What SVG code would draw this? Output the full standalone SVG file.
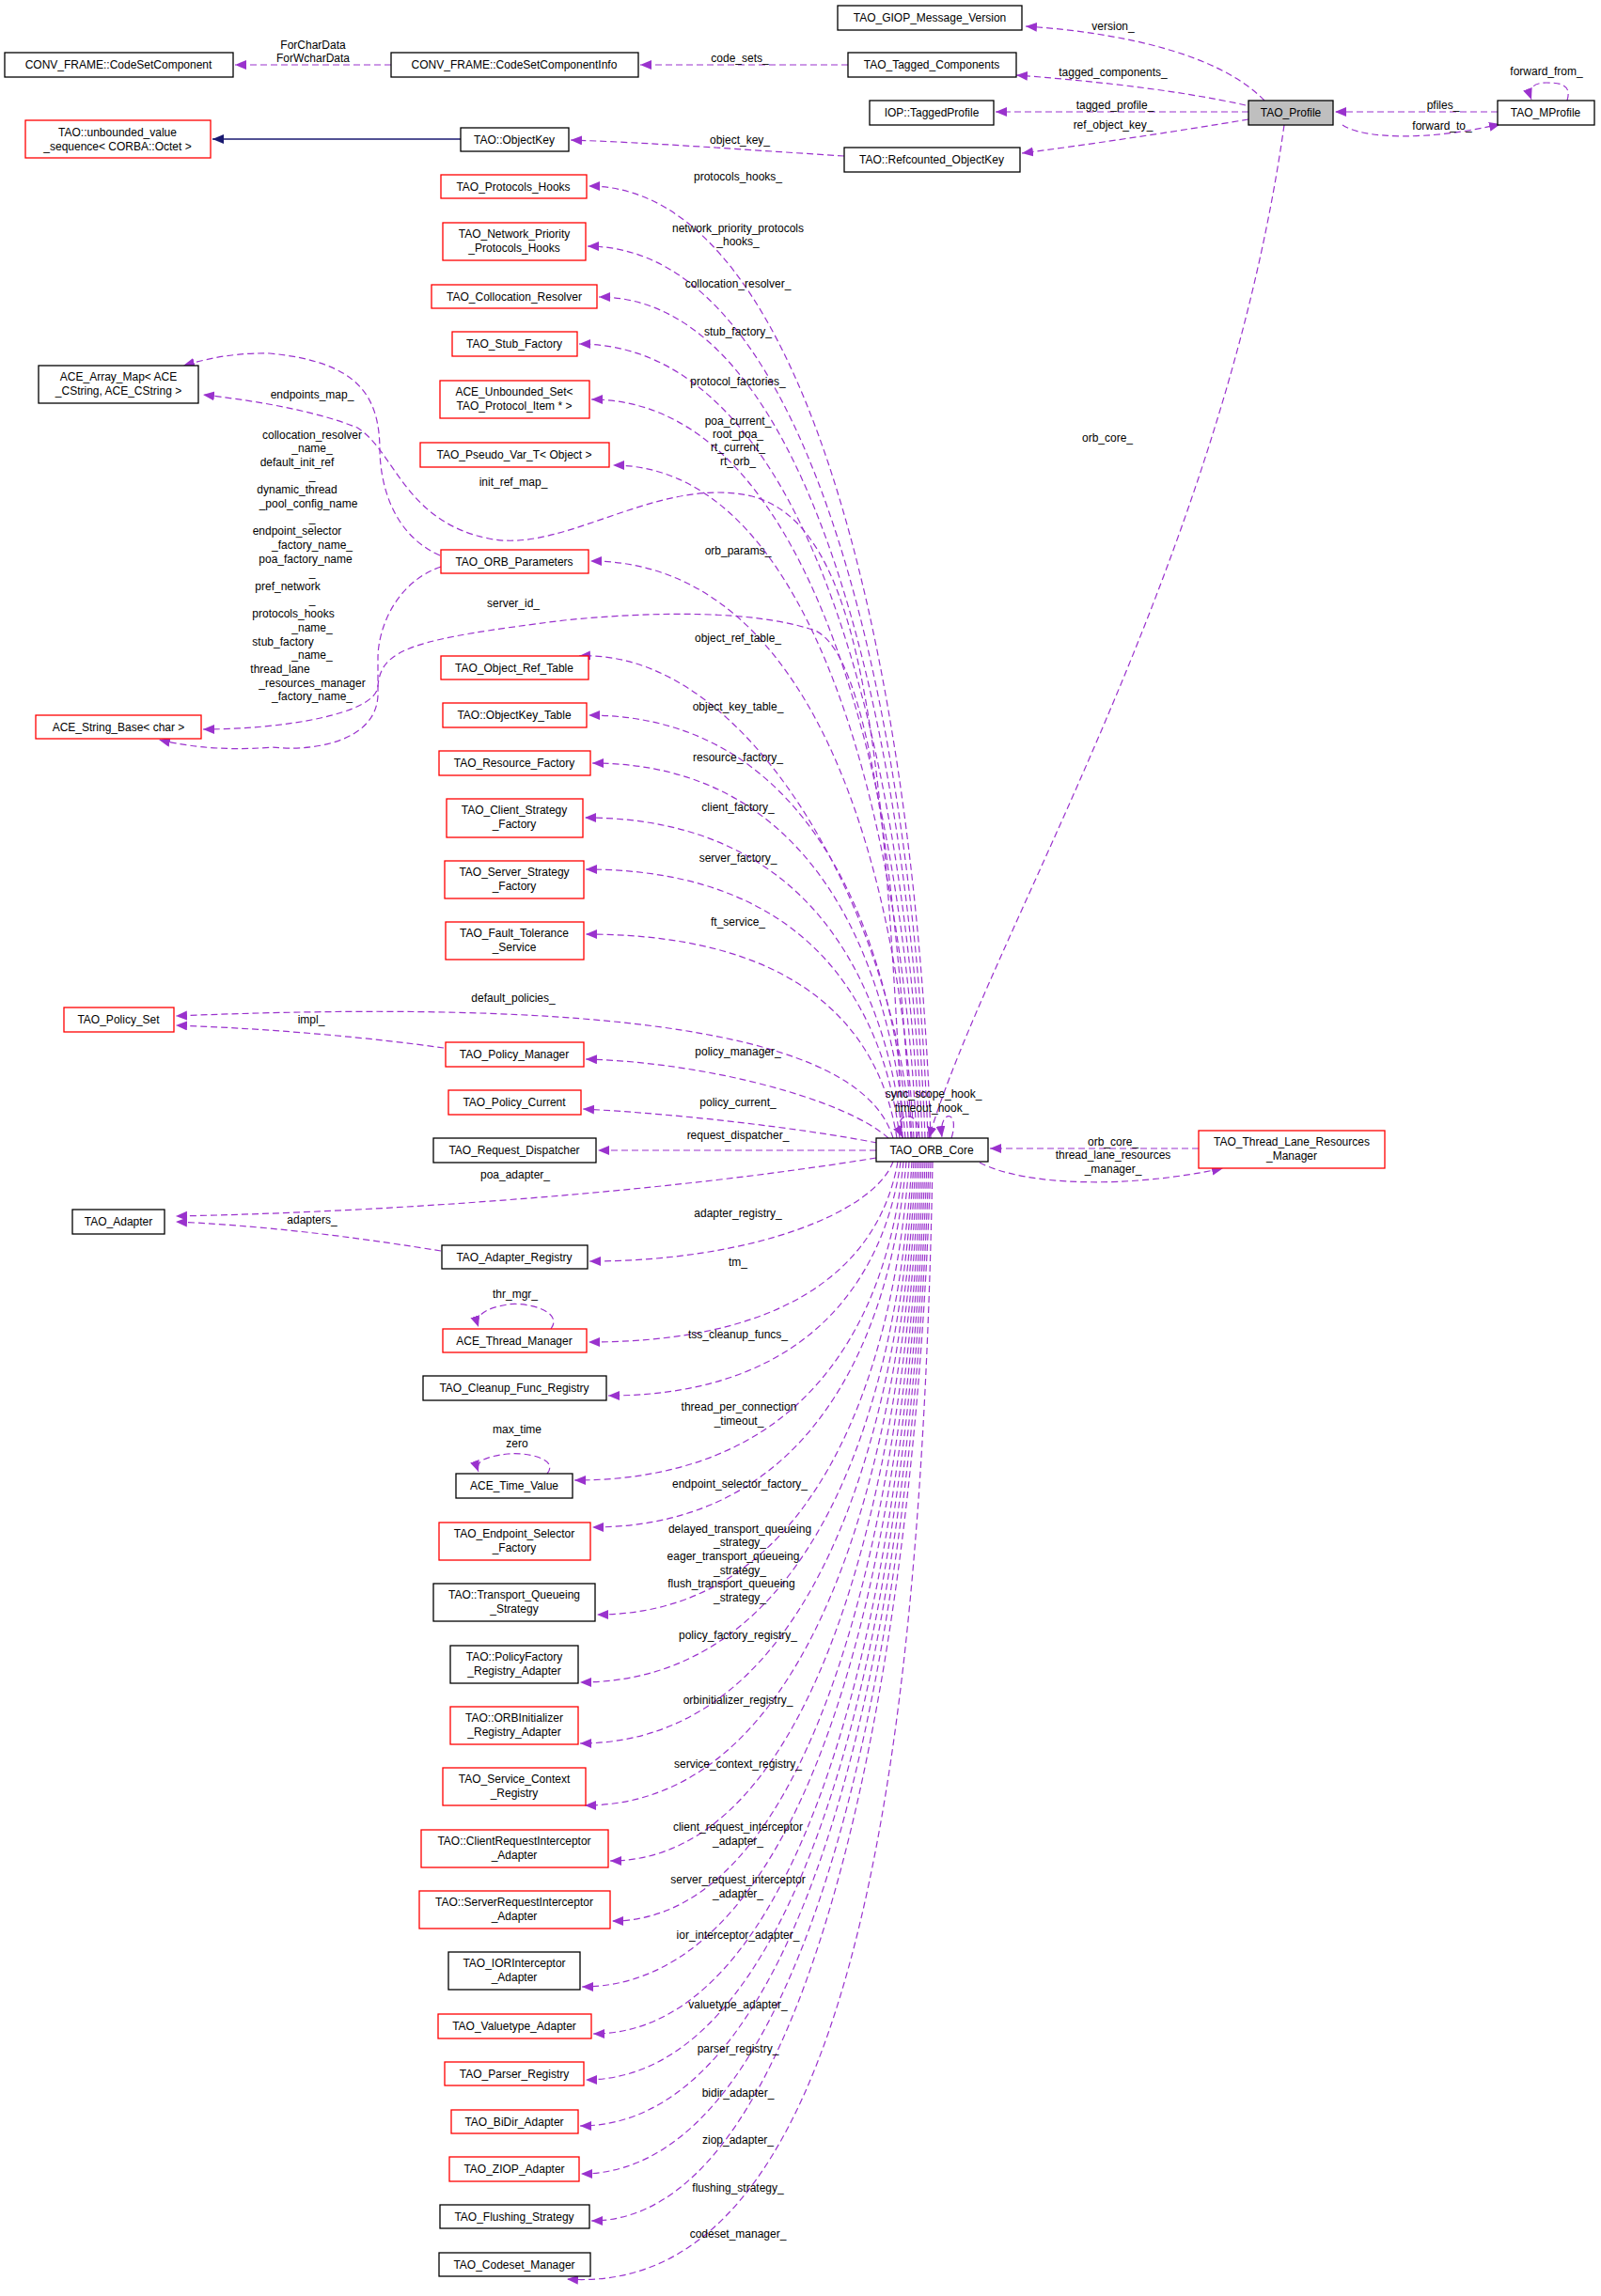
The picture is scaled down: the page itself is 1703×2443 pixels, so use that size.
<svg xmlns="http://www.w3.org/2000/svg" width="1703" height="2443" viewBox="0 0 1703 2443">
<style>
text{font-family:"Liberation Sans",Arial,sans-serif;font-size:12px;fill:#000}
.n text{text-anchor:middle}
.r{fill:#fff;stroke:#ff0000;stroke-width:1.3}
.b{fill:#fff;stroke:#000;stroke-width:1.3}
.g{fill:#bfbfbf;stroke:#000;stroke-width:1.3}
.e{fill:none;stroke:#9a32cd;stroke-width:1.2;stroke-dasharray:7,4;marker-end:url(#a)}
.s{fill:none;stroke:#191970;stroke-width:1.3;marker-end:url(#s)}
.l text{text-anchor:middle}
</style>
<defs>
<marker id="a" markerUnits="userSpaceOnUse" markerWidth="14" markerHeight="12" refX="12" refY="5" orient="auto"><path d="M0,0 L12,5 L0,10 z" fill="#9a32cd"/></marker>
<marker id="s" markerUnits="userSpaceOnUse" markerWidth="14" markerHeight="12" refX="12" refY="5" orient="auto"><path d="M0,0 L12,5 L0,10 z" fill="#191970"/></marker>
</defs>
<rect width="1703" height="2443" fill="#fff"/>
<g id="connectors">
<path class="e" d="M1345,107 C1300,60 1200,35 1091,28"/>
<path class="e" d="M1325,112 C1250,95 1150,85 1081,80"/>
<path class="e" d="M1328,119 L1059,119"/>
<path class="e" d="M1328,127 C1250,140 1150,155 1087,163"/>
<path class="e" d="M902,69 L681,69"/>
<path class="e" d="M416,69 L250,69"/>
<path class="s" d="M490,148 L226,148"/>
<path class="e" d="M898,166 C800,160 700,152 607,149"/>
<path class="e" d="M1593,119 L1420,119"/>
<path class="e" d="M1428,133 C1450,148 1520,150 1596,132"/>
<path class="e" d="M1667,107 C1672,90 1660,88 1645,88 C1630,88 1625,95 1629,106"/>
<path class="e" d="M1366,133 C1300,600 1050,1000 988,1211"/>
<path class="e" d="M975,1211 C985,1180 945,1180 960,1210"/>
<path class="e" d="M1012,1211 C1022,1180 998,1180 1002,1210"/>
<path class="e" d="M1275,1222 L1053,1222"/>
<path class="e" d="M1042,1237 C1090,1262 1200,1265 1301,1243"/>
<path class="e" d="M990,1211 C975,755 870,198 626,198"/>
<path class="e" d="M987,1211 C972,784 870,262 625,262"/>
<path class="e" d="M984,1211 C969,808 870,316 637,316"/>
<path class="e" d="M981,1211 C966,831 870,366 616,366"/>
<path class="e" d="M978,1211 C963,857 870,425 629,425"/>
<path class="e" d="M975,1211 C960,889 870,495 652,495"/>
<path class="e" d="M972,1211 C957,935 870,597 628,597"/>
<path class="e" d="M969,1211 C954,980 800,690 616,698"/>
<path class="e" d="M966,1211 C951,1009 870,761 626,761"/>
<path class="e" d="M963,1211 C948,1031 870,812 630,812"/>
<path class="e" d="M960,1211 C945,1058 870,870 622,870"/>
<path class="e" d="M957,1211 C942,1082 870,925 623,925"/>
<path class="e" d="M954,1211 C939,1113 870,994 623,994"/>
<path class="e" d="M945,1211 C900,1170 750,1130 623,1127"/>
<path class="e" d="M933,1216 C850,1200 720,1185 620,1180"/>
<path class="e" d="M932,1224 L636,1224"/>
<path class="e" d="M950,1211 C920,1110 700,1060 187,1081"/>
<path class="e" d="M472,1115 C400,1105 300,1095 187,1091"/>
<path class="e" d="M932,1232 C700,1270 400,1290 187,1294"/>
<path class="e" d="M469,1331 C400,1320 300,1305 187,1300"/>
<path class="e" d="M950,1236 C930,1290 800,1342 627,1342"/>
<path class="e" d="M955,1236 C940,1322 870,1428 626,1428"/>
<path class="e" d="M958,1236 C943,1348 870,1485 647,1485"/>
<path class="e" d="M961,1236 C946,1389 870,1575 611,1575"/>
<path class="e" d="M964,1236 C949,1411 870,1625 630,1625"/>
<path class="e" d="M967,1236 C952,1453 870,1718 635,1718"/>
<path class="e" d="M970,1236 C955,1485 870,1790 617,1790"/>
<path class="e" d="M972,1236 C957,1515 870,1855 617,1855"/>
<path class="e" d="M974,1236 C959,1544 870,1921 622,1921"/>
<path class="e" d="M976,1236 C961,1571 870,1980 649,1980"/>
<path class="e" d="M978,1236 C963,1600 870,2044 651,2044"/>
<path class="e" d="M980,1236 C965,1631 870,2114 619,2114"/>
<path class="e" d="M982,1236 C967,1654 870,2164 631,2164"/>
<path class="e" d="M984,1236 C969,1676 870,2213 623,2213"/>
<path class="e" d="M986,1236 C971,1698 870,2262 617,2262"/>
<path class="e" d="M988,1236 C973,1720 870,2313 618,2313"/>
<path class="e" d="M990,1236 C975,1743 870,2363 629,2363"/>
<path class="e" d="M992,1236 C980,1900 900,2445 603,2425"/>
<path class="e" d="M586,1414 C600,1395 560,1385 540,1388 C515,1392 505,1400 509,1412"/>
<path class="e" d="M582,1568 C595,1552 560,1545 540,1547 C515,1550 505,1555 509,1566"/>
<path class="e" d="M960,1211 C940,800 920,560 800,528 C700,505 600,590 520,573 C430,555 420,480 380,455 C330,435 260,425 216,420"/>
<path class="e" d="M468,591 C420,570 405,520 404,480 C404,420 380,385 287,376 C240,375 210,385 195,389"/>
<path class="e" d="M469,603 C420,620 402,670 402,700 L402,740 C400,790 330,800 290,795 C230,800 190,792 169,787"/>
<path class="e" d="M970,1211 C950,900 920,680 861,669 C800,650 700,650 600,660 C440,680 405,690 402,730 C400,760 300,776 216,776"/>
</g>
<g class="l">
<text x="1184" y="32">version_</text>
<text x="1184" y="81">tagged_components_</text>
<text x="1186" y="116">tagged_profile_</text>
<text x="1184" y="137">ref_object_key_</text>
<text x="787" y="66">code_sets_</text>
<text x="333" y="52">ForCharData</text>
<text x="333" y="66">ForWcharData</text>
<text x="787" y="153">object_key_</text>
<text x="1535" y="116">pfiles_</text>
<text x="1534" y="138">forward_to_</text>
<text x="1645" y="80">forward_from_</text>
<text x="1178" y="470">orb_core_</text>
<text x="785" y="192">protocols_hooks_</text>
<text x="785" y="247">network_priority_protocols</text>
<text x="785" y="261">_hooks_</text>
<text x="785" y="306">collocation_resolver_</text>
<text x="785" y="357">stub_factory_</text>
<text x="785" y="410">protocol_factories_</text>
<text x="785" y="452">poa_current_</text>
<text x="785" y="466">root_poa_</text>
<text x="785" y="480">rt_current_</text>
<text x="785" y="495">rt_orb_</text>
<text x="546" y="517">init_ref_map_</text>
<text x="332" y="424">endpoints_map_</text>
<text x="785" y="590">orb_params_</text>
<text x="546" y="646">server_id_</text>
<text x="785" y="683">object_ref_table_</text>
<text x="785" y="756">object_key_table_</text>
<text x="785" y="810">resource_factory_</text>
<text x="785" y="863">client_factory_</text>
<text x="785" y="917">server_factory_</text>
<text x="785" y="985">ft_service_</text>
<text x="546" y="1066">default_policies_</text>
<text x="331" y="1089">impl_</text>
<text x="785" y="1123">policy_manager_</text>
<text x="785" y="1177">policy_current_</text>
<text x="785" y="1212">request_dispatcher_</text>
<text x="548" y="1254">poa_adapter_</text>
<text x="332" y="1302">adapters_</text>
<text x="785" y="1295">adapter_registry_</text>
<text x="785" y="1347">tm_</text>
<text x="548" y="1381">thr_mgr_</text>
<text x="785" y="1424">tss_cleanup_funcs_</text>
<text x="786" y="1501">thread_per_connection</text>
<text x="786" y="1516">_timeout_</text>
<text x="550" y="1525">max_time</text>
<text x="550" y="1540">zero</text>
<text x="787" y="1583">endpoint_selector_factory_</text>
<text x="787" y="1631">delayed_transport_queueing</text>
<text x="787" y="1645">_strategy_</text>
<text x="780" y="1660">eager_transport_queueing</text>
<text x="787" y="1675">_strategy_</text>
<text x="778" y="1689">flush_transport_queueing</text>
<text x="787" y="1704">_strategy_</text>
<text x="785" y="1744">policy_factory_registry_</text>
<text x="785" y="1813">orbinitializer_registry_</text>
<text x="785" y="1881">service_context_registry_</text>
<text x="785" y="1948">client_request_interceptor</text>
<text x="785" y="1963">_adapter_</text>
<text x="785" y="2004">server_request_interceptor</text>
<text x="785" y="2019">_adapter_</text>
<text x="785" y="2063">ior_interceptor_adapter_</text>
<text x="785" y="2137">valuetype_adapter_</text>
<text x="785" y="2184">parser_registry_</text>
<text x="785" y="2231">bidir_adapter_</text>
<text x="785" y="2281">ziop_adapter_</text>
<text x="785" y="2332">flushing_strategy_</text>
<text x="785" y="2381">codeset_manager_</text>
<text x="993" y="1168">sync_scope_hook_</text>
<text x="991" y="1183">timeout_hook_</text>
<text x="1184" y="1219">orb_core_</text>
<text x="1184" y="1233">thread_lane_resources</text>
<text x="1184" y="1248">_manager_</text>
<text x="332" y="467">collocation_resolver</text>
<text x="332" y="481">_name_</text>
<text x="316" y="496">default_init_ref</text>
<text x="332" y="510">_</text>
<text x="316" y="525">dynamic_thread</text>
<text x="328" y="540">_pool_config_name</text>
<text x="332" y="555">_</text>
<text x="316" y="569">endpoint_selector</text>
<text x="332" y="584">_factory_name_</text>
<text x="325" y="599">poa_factory_name</text>
<text x="332" y="613">_</text>
<text x="306" y="628">pref_network</text>
<text x="332" y="642">_</text>
<text x="312" y="657">protocols_hooks</text>
<text x="332" y="672">_name_</text>
<text x="301" y="687">stub_factory</text>
<text x="332" y="701">_name_</text>
<text x="298" y="716">thread_lane</text>
<text x="332" y="731">_resources_manager</text>
<text x="332" y="745">_factory_name_</text>
</g>
<g class="n">
<g id="giop"><rect class="b" x="891" y="6" width="196" height="26"/><text x="989" y="23">TAO_GIOP_Message_Version</text></g>
<g id="csc"><rect class="b" x="5" y="56" width="243" height="26"/><text x="126" y="73">CONV_FRAME::CodeSetComponent</text></g>
<g id="csci"><rect class="b" x="416" y="56" width="263" height="26"/><text x="547" y="73">CONV_FRAME::CodeSetComponentInfo</text></g>
<g id="tagged"><rect class="b" x="902" y="56" width="179" height="26"/><text x="991" y="73">TAO_Tagged_Components</text></g>
<g id="iop"><rect class="b" x="925" y="107" width="132" height="26"/><text x="991" y="124">IOP::TaggedProfile</text></g>
<g id="profile"><rect class="g" x="1328" y="107" width="90" height="26"/><text x="1373" y="124">TAO_Profile</text></g>
<g id="mprofile"><rect class="b" x="1593" y="107" width="103" height="26"/><text x="1644" y="124">TAO_MProfile</text></g>
<g id="uvs"><rect class="r" x="27" y="128" width="197" height="40"/><text x="125" y="145">TAO::unbounded_value</text><text x="125" y="160">_sequence&lt; CORBA::Octet &gt;</text></g>
<g id="okey"><rect class="b" x="490" y="136" width="115" height="25"/><text x="547" y="153">TAO::ObjectKey</text></g>
<g id="rokey"><rect class="b" x="898" y="157" width="187" height="26"/><text x="991" y="174">TAO::Refcounted_ObjectKey</text></g>
<g id="ph"><rect class="r" x="469" y="186" width="155" height="25"/><text x="546" y="203">TAO_Protocols_Hooks</text></g>
<g id="nph"><rect class="r" x="471" y="237" width="152" height="40"/><text x="547" y="253">TAO_Network_Priority</text><text x="547" y="268">_Protocols_Hooks</text></g>
<g id="cr"><rect class="r" x="459" y="303" width="176" height="25"/><text x="547" y="320">TAO_Collocation_Resolver</text></g>
<g id="sf"><rect class="r" x="481" y="353" width="133" height="26"/><text x="547" y="370">TAO_Stub_Factory</text></g>
<g id="us"><rect class="r" x="468" y="405" width="159" height="40"/><text x="547" y="421">ACE_Unbounded_Set&lt;</text><text x="547" y="436">TAO_Protocol_Item * &gt;</text></g>
<g id="pv"><rect class="r" x="447" y="471" width="201" height="26"/><text x="547" y="488">TAO_Pseudo_Var_T&lt; Object &gt;</text></g>
<g id="am"><rect class="b" x="41" y="389" width="170" height="40"/><text x="126" y="405">ACE_Array_Map&lt; ACE</text><text x="126" y="420">_CString, ACE_CString &gt;</text></g>
<g id="op"><rect class="r" x="469" y="585" width="157" height="25"/><text x="547" y="602">TAO_ORB_Parameters</text></g>
<g id="ort"><rect class="r" x="469" y="698" width="157" height="25"/><text x="547" y="715">TAO_Object_Ref_Table</text></g>
<g id="okt"><rect class="r" x="471" y="748" width="153" height="26"/><text x="547" y="765">TAO::ObjectKey_Table</text></g>
<g id="rf"><rect class="r" x="467" y="799" width="161" height="26"/><text x="547" y="816">TAO_Resource_Factory</text></g>
<g id="sb"><rect class="r" x="38" y="761" width="176" height="25"/><text x="126" y="778">ACE_String_Base&lt; char &gt;</text></g>
<g id="csf"><rect class="r" x="475" y="850" width="145" height="41"/><text x="547" y="866">TAO_Client_Strategy</text><text x="547" y="881">_Factory</text></g>
<g id="ssf"><rect class="r" x="473" y="916" width="148" height="40"/><text x="547" y="932">TAO_Server_Strategy</text><text x="547" y="947">_Factory</text></g>
<g id="ft"><rect class="r" x="474" y="981" width="147" height="40"/><text x="547" y="997">TAO_Fault_Tolerance</text><text x="547" y="1012">_Service</text></g>
<g id="ps"><rect class="r" x="68" y="1072" width="117" height="26"/><text x="126" y="1089">TAO_Policy_Set</text></g>
<g id="pm"><rect class="r" x="474" y="1109" width="147" height="26"/><text x="547" y="1126">TAO_Policy_Manager</text></g>
<g id="pc"><rect class="r" x="477" y="1160" width="141" height="26"/><text x="547" y="1177">TAO_Policy_Current</text></g>
<g id="rd"><rect class="b" x="461" y="1211" width="173" height="26"/><text x="547" y="1228">TAO_Request_Dispatcher</text></g>
<g id="orbcore"><rect class="b" x="932" y="1211" width="119" height="25"/><text x="991" y="1228">TAO_ORB_Core</text></g>
<g id="tlrm"><rect class="r" x="1275" y="1203" width="198" height="40"/><text x="1374" y="1219">TAO_Thread_Lane_Resources</text><text x="1374" y="1234">_Manager</text></g>
<g id="ad"><rect class="b" x="77" y="1287" width="98" height="26"/><text x="126" y="1304">TAO_Adapter</text></g>
<g id="ar"><rect class="b" x="470" y="1325" width="155" height="25"/><text x="547" y="1342">TAO_Adapter_Registry</text></g>
<g id="tmg"><rect class="r" x="471" y="1414" width="153" height="25"/><text x="547" y="1431">ACE_Thread_Manager</text></g>
<g id="cfr"><rect class="b" x="450" y="1464" width="195" height="26"/><text x="547" y="1481">TAO_Cleanup_Func_Registry</text></g>
<g id="tv"><rect class="b" x="485" y="1568" width="124" height="26"/><text x="547" y="1585">ACE_Time_Value</text></g>
<g id="esf"><rect class="r" x="467" y="1620" width="161" height="40"/><text x="547" y="1636">TAO_Endpoint_Selector</text><text x="547" y="1651">_Factory</text></g>
<g id="tqs"><rect class="b" x="461" y="1685" width="172" height="40"/><text x="547" y="1701">TAO::Transport_Queueing</text><text x="547" y="1716">_Strategy</text></g>
<g id="pfr"><rect class="b" x="479" y="1751" width="136" height="40"/><text x="547" y="1767">TAO::PolicyFactory</text><text x="547" y="1782">_Registry_Adapter</text></g>
<g id="oir"><rect class="r" x="479" y="1816" width="136" height="40"/><text x="547" y="1832">TAO::ORBInitializer</text><text x="547" y="1847">_Registry_Adapter</text></g>
<g id="scr"><rect class="r" x="471" y="1881" width="152" height="40"/><text x="547" y="1897">TAO_Service_Context</text><text x="547" y="1912">_Registry</text></g>
<g id="cri"><rect class="r" x="448" y="1947" width="199" height="40"/><text x="547" y="1963">TAO::ClientRequestInterceptor</text><text x="547" y="1978">_Adapter</text></g>
<g id="sri"><rect class="r" x="446" y="2012" width="203" height="40"/><text x="547" y="2028">TAO::ServerRequestInterceptor</text><text x="547" y="2043">_Adapter</text></g>
<g id="iori"><rect class="b" x="477" y="2077" width="140" height="40"/><text x="547" y="2093">TAO_IORInterceptor</text><text x="547" y="2108">_Adapter</text></g>
<g id="vta"><rect class="r" x="466" y="2143" width="163" height="26"/><text x="547" y="2160">TAO_Valuetype_Adapter</text></g>
<g id="pr"><rect class="r" x="473" y="2194" width="148" height="25"/><text x="547" y="2211">TAO_Parser_Registry</text></g>
<g id="bd"><rect class="r" x="480" y="2245" width="135" height="25"/><text x="547" y="2262">TAO_BiDir_Adapter</text></g>
<g id="zi"><rect class="r" x="478" y="2295" width="138" height="26"/><text x="547" y="2312">TAO_ZIOP_Adapter</text></g>
<g id="fs"><rect class="b" x="468" y="2346" width="159" height="25"/><text x="547" y="2363">TAO_Flushing_Strategy</text></g>
<g id="cm"><rect class="b" x="467" y="2397" width="161" height="25"/><text x="547" y="2414">TAO_Codeset_Manager</text></g>
</g>
</svg>
